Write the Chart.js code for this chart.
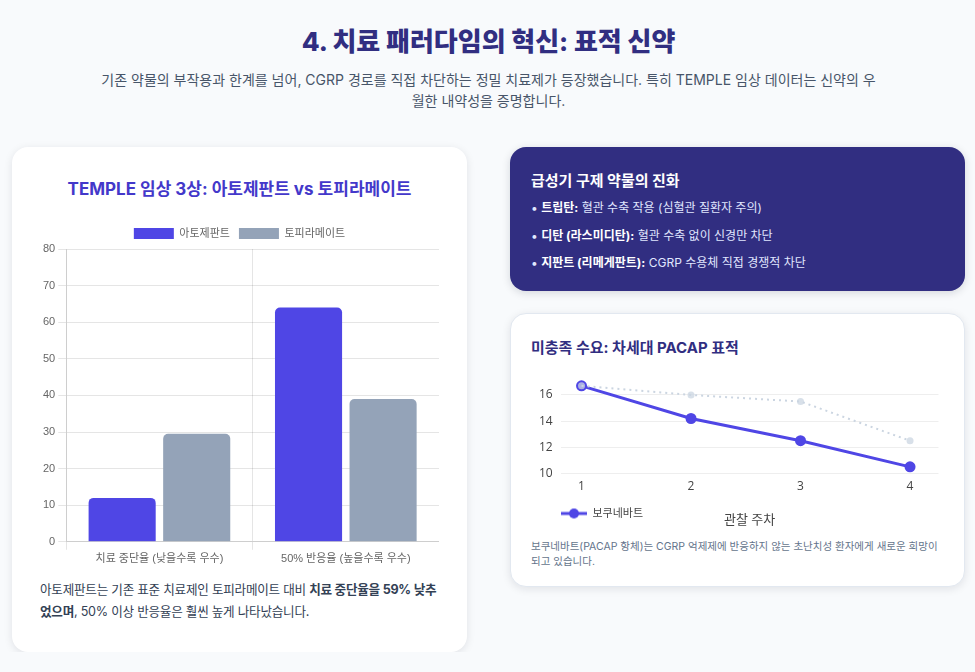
<!DOCTYPE html>
<html lang="ko">
<head>
<meta charset="utf-8">
<script src="https://cdn.jsdelivr.net/npm/chart.js@4.4.1/dist/chart.umd.min.js"></script>
<style>
  * { box-sizing: border-box; }
  body {
    margin: 0;
    background: #f8fafc;
    font-family: "Inter", "Noto Sans CJK KR", sans-serif;
    color: #334155;
  }
  .wrap { width: 953px; margin-left: 12px; }
  h2 {
    margin: 24px 0 0;
    text-align: center;
    font-size: 26px;
    font-weight: 800;
    color: #312e81;
    line-height: 36px;
  }
  .lead {
    width: 786px;
    margin: 9px auto 0;
    text-align: center;
    font-size: 14px;
    line-height: 21px;
    color: #475569;
    word-break: break-all;
  }
  .grid {
    display: grid;
    grid-template-columns: 455px 455px;
    column-gap: 43px;
    margin-top: 36px;
  }
  .card {
    background: #fff;
    border-radius: 16px;
    box-shadow: 0 2px 8px rgba(15, 23, 42, 0.10);
  }
  .left { height: 505px; padding: 24px 28px; }
  .left h3 {
    margin: 4px 0 0;
    text-align: center;
    font-size: 17px;
    font-weight: 700;
    color: #4338ca;
  }
  .barbox { position: relative; height: 350px; margin-top: 19px; }
  .left p {
    margin: 10px 0 0;
    font-size: 12.6px;
    letter-spacing: -0.25px;
    line-height: 22px;
    color: #334155;
    word-break: break-all;
  }
  .dark {
    height: 144px;
    background: #312e81;
    border-radius: 16px;
    padding: 22px 21px;
    color: #e0e7ff;
    box-shadow: 0 2px 8px rgba(15, 23, 42, 0.15);
  }
  .dark h4 { margin: 0 0 4px; font-size: 15px; font-weight: 700; color: #fff; }
  .dark ul { list-style: none; margin: 0; padding: 0; }
  .dark li { font-size: 12px; line-height: 27.5px; }
  .dark b { color: #fff; }
  .pacap {
    margin-top: 22px;
    height: 274px;
    padding: 22px 20px;
    border: 1px solid #e2e8f0;
  }
  .pacap h4 { margin: 0; font-size: 15px; font-weight: 700; color: #312e81; }
  .linebox { position: relative; height: 170px; margin-top: 2px; }
  .pacap p { margin: 10px 0 0; font-size: 10.5px; line-height: 15px; color: #64748b; }
</style>
</head>
<body>
<div class="wrap">
  <h2>4. 치료 패러다임의 혁신: 표적 신약</h2>
  <div class="lead">기존 약물의 부작용과 한계를 넘어, CGRP 경로를 직접 차단하는 정밀 치료제가 등장했습니다. 특히 TEMPLE 임상 데이터는 신약의 우월한 내약성을 증명합니다.</div>
  <div class="grid">
    <div class="card left">
      <h3>TEMPLE 임상 3상: 아토제판트 vs 토피라메이트</h3>
      <div class="barbox"><canvas id="templeChart"></canvas></div>
      <p>아토제판트는 기존 표준 치료제인 토피라메이트 대비 <b>치료 중단율을 59% 낮추었으며</b>, 50% 이상 반응율은 훨씬 높게 나타났습니다.</p>
    </div>
    <div>
      <div class="dark">
        <h4>급성기 구제 약물의 진화</h4>
        <ul>
          <li>• <b>트립탄:</b> 혈관 수축 작용 (심혈관 질환자 주의)</li>
          <li>• <b>디탄 (라스미디탄):</b> 혈관 수축 없이 신경만 차단</li>
          <li>• <b>지판트 (리메게판트):</b> CGRP 수용체 직접 경쟁적 차단</li>
        </ul>
      </div>
      <div class="card pacap">
        <h4>미충족 수요: 차세대 PACAP 표적</h4>
        <div class="linebox"><canvas id="pacapChart"></canvas></div>
        <p>보쿠네바트(PACAP 항체)는 CGRP 억제제에 반응하지 않는 초난치성 환자에게 새로운 희망이 되고 있습니다.</p>
      </div>
    </div>
  </div>
</div>

<script>
// TEMPLE trial
const templeLabels = ["치료 중단율 (낮을수록 우수)", "50% 반응율 (높을수록 우수)"];
const atogepant = [12, 64];
const topiramate = [29.5, 39];

// PACAP line
const weeks = [1, 2, 3, 4];
const bocunebart = [16.7, 14.2, 12.5, 10.5];
const comparison = [16.7, 16.0, 15.5, 12.5];

const barFont = "'Liberation Sans', 'Noto Sans CJK KR', sans-serif";
const lineFont = "'Open Sans', 'Noto Sans CJK KR', sans-serif";

new Chart(document.getElementById("templeChart"), {
  type: "bar",
  data: {
    labels: templeLabels,
    datasets: [
      { label: "아토제판트", data: atogepant, backgroundColor: "#4f46e5", borderRadius: 5 },
      { label: "토피라메이트", data: topiramate, backgroundColor: "#94a3b8", borderRadius: 5 }
    ]
  },
  options: {
    responsive: true,
    maintainAspectRatio: false,
    animation: false,
    plugins: {
      legend: { labels: { padding: 9, font: { family: barFont, size: 11 }, color: "#666" } }
    },
    scales: {
      x: { ticks: { font: { family: barFont, size: 11 }, color: "#666" } },
      y: {
        min: 0, max: 80,
        ticks: { stepSize: 10, font: { family: barFont, size: 11 }, color: "#666" }
      }
    }
  }
});

// legend icon: line with a dot (left part left blank to push it in)
const icon = document.createElement("canvas");
icon.width = 46; icon.height = 12;
const ic = icon.getContext("2d");
ic.strokeStyle = "#4f46e5"; ic.lineWidth = 3;
ic.beginPath(); ic.moveTo(20, 6); ic.lineTo(46, 6); ic.stroke();
ic.fillStyle = "#4f46e5";
ic.beginPath(); ic.arc(33, 6, 5, 0, Math.PI * 2); ic.fill();

new Chart(document.getElementById("pacapChart"), {
  type: "line",
  data: {
    datasets: [
      {
        label: "대조군",
        data: weeks.map((w, i) => ({ x: w, y: comparison[i] })),
        borderColor: "#cbd5e1",
        backgroundColor: "rgba(203,213,225,0.75)",
        borderWidth: 2,
        borderDash: [2, 4],
        pointRadius: 3.5,
        pointBorderWidth: 0
      },
      {
        label: "보쿠네바트",
        data: weeks.map((w, i) => ({ x: w, y: bocunebart[i] })),
        borderColor: "#4f46e5",
        backgroundColor: "#4f46e5",
        borderWidth: 3,
        pointRadius: 5.5,
        pointBorderWidth: 0
      }
    ]
  },
  options: {
    responsive: true,
    maintainAspectRatio: false,
    animation: false,
    layout: { padding: { top: 19, left: 0 } },
    plugins: {
      legend: {
        position: "bottom",
        align: "start",
        labels: {
          usePointStyle: true,
          pointStyleWidth: 46,
          font: { family: lineFont, size: 11 },
          color: "#444",
          generateLabels: chart => [{
            text: "보쿠네바트", pointStyle: icon, datasetIndex: 1,
            fillStyle: "#4f46e5", strokeStyle: "#4f46e5", fontColor: "#444", lineWidth: 0
          }]
        }
      },
      tooltip: { enabled: false }
    },
    scales: {
      x: {
        type: "linear",
        min: 0.81, max: 4.26,
        grid: { display: false, drawTicks: false },
        border: { display: false },
        ticks: { stepSize: 1, includeBounds: false, font: { family: lineFont, size: 12 }, color: "#444" },
        title: { display: true, text: "관찰 주차", font: { family: lineFont, size: 13 }, color: "#444", padding: { top: 16, bottom: -30 } }
      },
      y: {
        min: 9.8, max: 17.3,
        border: { display: false },
        grid: { color: "#eeeeee", drawTicks: false },
        ticks: { stepSize: 2, includeBounds: false, font: { family: lineFont, size: 12 }, color: "#444", padding: 8 }
      }
    }
  }
});
</script>
</body>
</html>
